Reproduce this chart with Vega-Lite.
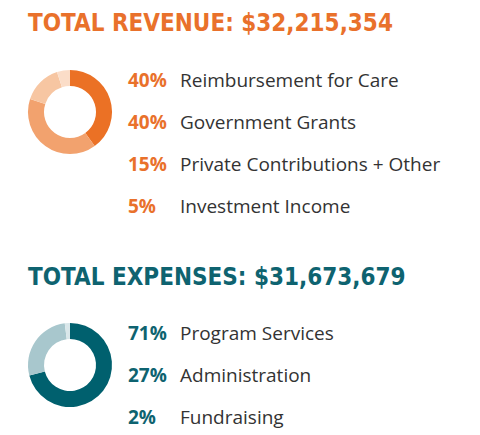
{
  "$schema": "https://vega.github.io/schema/vega-lite/v6.json",
  "padding": {"left": 28, "top": 0, "right": 0, "bottom": 0},
  "autosize": {"type": "pad"},
  "spacing": 0,
  "background": "white",
  "resolve": {"scale": {"color": "independent", "y": "independent"}},
  "config": {"view": {"stroke": null}},
  "datasets": {
    "revenue": [
      {"pct": "40%", "label": "Reimbursement for Care", "share": 40, "o": 1},
      {"pct": "40%", "label": "Government Grants", "share": 40, "o": 2},
      {"pct": "15%", "label": "Private Contributions + Other", "share": 15, "o": 3},
      {"pct": "5%", "label": "Investment Income", "share": 5, "o": 4}
    ],
    "expenses": [
      {"pct": "71%", "label": "Program Services", "share": 71, "o": 1},
      {"pct": "27%", "label": "Administration", "share": 27, "o": 2},
      {"pct": "2%", "label": "Fundraising", "share": 2, "o": 3}
    ],
    "titles": [
      {"section": "revenue", "text": "TOTAL REVENUE: $32,215,354"},
      {"section": "expenses", "text": "TOTAL EXPENSES: $31,673,679"}
    ]
  },
  "vconcat": [
    {
      "width": 452, "height": 60,
      "data": {"name": "titles"},
      "transform": [{"filter": "datum.section === 'revenue'"}],
      "mark": {"type": "text", "align": "left", "baseline": "middle", "font": "DejaVu Sans Condensed", "fontWeight": "bold", "fontSize": 24, "color": "#E9712B"},
      "encoding": {"text": {"field": "text"}, "x": {"value": 0}, "y": {"value": 24}}
    },
    {
      "spacing": 16,
      "resolve": {"scale": {"color": "independent", "y": "independent"}},
      "hconcat": [
        {
          "width": 84, "height": 104,
          "data": {"name": "revenue"},
          "mark": {"type": "arc", "outerRadius": 42, "innerRadius": 26},
          "encoding": {
            "theta": {"field": "share", "type": "quantitative", "stack": true},
            "order": {"field": "o", "type": "quantitative"},
            "color": {"field": "label", "type": "nominal", "legend": null,
              "scale": {"domain": ["Reimbursement for Care", "Government Grants", "Private Contributions + Other", "Investment Income"],
                        "range": ["#EB7125", "#F2A26E", "#F7C6A2", "#FBDDC8"]}}
          }
        },
        {
          "width": 324, "height": 168,
          "data": {"name": "revenue"},
          "encoding": {
            "y": {"field": "label", "type": "nominal", "sort": null, "axis": null,
                  "scale": {"type": "band", "paddingInner": 0, "paddingOuter": 0}}
          },
          "layer": [
            {"mark": {"type": "text", "align": "left", "baseline": "middle", "font": "Open Sans", "fontWeight": "bold", "fontSize": 19, "color": "#E9712B"},
             "encoding": {"text": {"field": "pct"}, "x": {"value": 0}}},
            {"mark": {"type": "text", "align": "left", "baseline": "middle", "font": "Open Sans", "fontSize": 19, "color": "#333333"},
             "encoding": {"text": {"field": "label"}, "x": {"value": 52}}}
          ]
        }
      ]
    },
    {
      "width": 452, "height": 85,
      "data": {"name": "titles"},
      "transform": [{"filter": "datum.section === 'expenses'"}],
      "mark": {"type": "text", "align": "left", "baseline": "middle", "font": "DejaVu Sans Condensed", "fontWeight": "bold", "fontSize": 24, "color": "#0E6370"},
      "encoding": {"text": {"field": "text"}, "x": {"value": 0}, "y": {"value": 50}}
    },
    {
      "spacing": 16,
      "resolve": {"scale": {"color": "independent", "y": "independent"}},
      "hconcat": [
        {
          "width": 84, "height": 104,
          "data": {"name": "expenses"},
          "mark": {"type": "arc", "outerRadius": 42, "innerRadius": 26},
          "encoding": {
            "theta": {"field": "share", "type": "quantitative", "stack": true},
            "order": {"field": "o", "type": "quantitative"},
            "color": {"field": "label", "type": "nominal", "legend": null,
              "scale": {"domain": ["Program Services", "Administration", "Fundraising"],
                        "range": ["#00606E", "#A8C7CD", "#D9E7EA"]}}
          }
        },
        {
          "width": 324, "height": 126,
          "data": {"name": "expenses"},
          "encoding": {
            "y": {"field": "label", "type": "nominal", "sort": null, "axis": null,
                  "scale": {"type": "band", "paddingInner": 0, "paddingOuter": 0}}
          },
          "layer": [
            {"mark": {"type": "text", "align": "left", "baseline": "middle", "font": "Open Sans", "fontWeight": "bold", "fontSize": 19, "color": "#0E6370"},
             "encoding": {"text": {"field": "pct"}, "x": {"value": 0}}},
            {"mark": {"type": "text", "align": "left", "baseline": "middle", "font": "Open Sans", "fontSize": 19, "color": "#333333"},
             "encoding": {"text": {"field": "label"}, "x": {"value": 52}}}
          ]
        }
      ]
    }
  ]
}
